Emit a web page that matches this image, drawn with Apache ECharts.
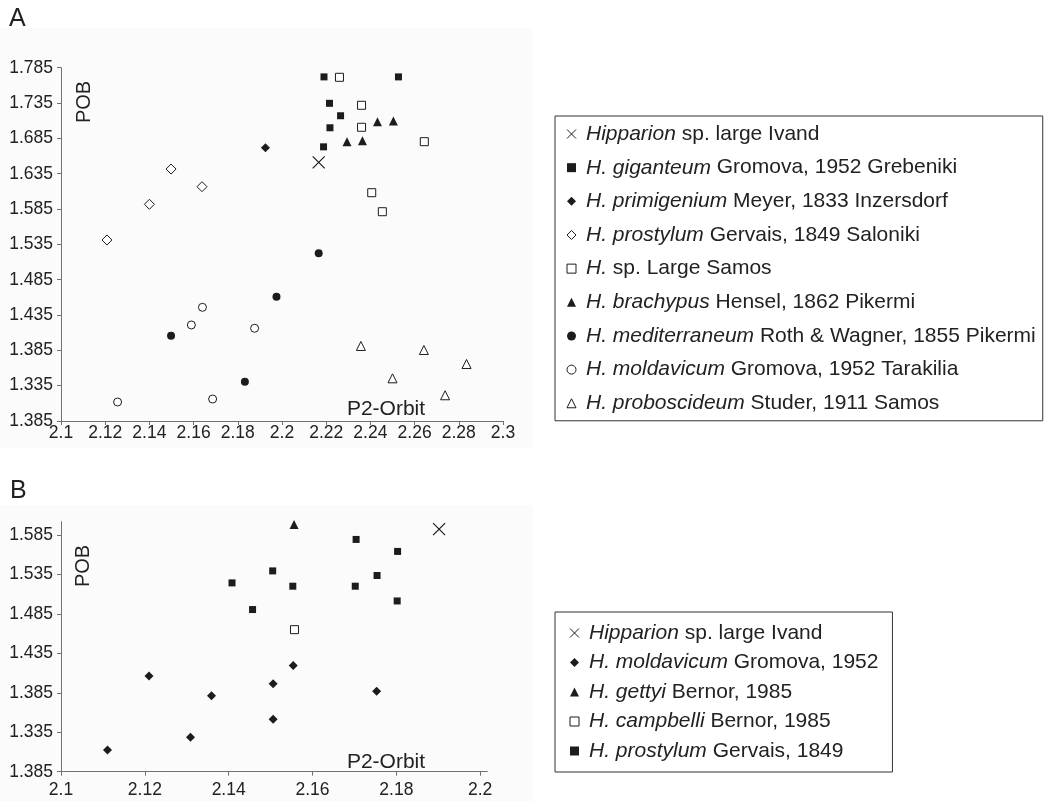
<!DOCTYPE html>
<html>
<head>
<meta charset="utf-8">
<title>P2-Orbit vs POB</title>
<script src="https://cdn.jsdelivr.net/npm/echarts@6/dist/echarts.min.js"></script>
<style>
    html, body { margin: 0; padding: 0; background: #fff; }
    #chart { width: 1051px; height: 801px; }
</style>
</head>
<body>
<div id="chart"></div>
<script>
// ---- axis ticks / labels (the printed bottom label really reads 1.385) ----
const xTicksA = [2.1, 2.12, 2.14, 2.16, 2.18, 2.2, 2.22, 2.24, 2.26, 2.28, 2.3];
const xLabelsA = ['2.1', '2.12', '2.14', '2.16', '2.18', '2.2', '2.22', '2.24', '2.26', '2.28', '2.3'];
const yTicksA = [1.285, 1.335, 1.385, 1.435, 1.485, 1.535, 1.585, 1.635, 1.685, 1.735, 1.785];
const yLabelsA = ['1.385', '1.335', '1.385', '1.435', '1.485', '1.535', '1.585', '1.635', '1.685', '1.735', '1.785'];

const xTicksB = [2.1, 2.12, 2.14, 2.16, 2.18, 2.2];
const xLabelsB = ['2.1', '2.12', '2.14', '2.16', '2.18', '2.2'];
const yTicksB = [1.285, 1.335, 1.385, 1.435, 1.485, 1.535, 1.585];
const yLabelsB = ['1.385', '1.335', '1.385', '1.435', '1.485', '1.535', '1.585'];

// ---- panel A: [P2-Orbit, POB] ----
const ivandA = [[2.2166, 1.651]];
const giganteum = [[2.219, 1.772], [2.2527, 1.772], [2.2215, 1.7346], [2.2265, 1.717], [2.2217, 1.700], [2.2188, 1.673]];
const primigenium = [[2.1925, 1.6718]];
const prostylumSaloniki = [[2.1498, 1.6416], [2.1638, 1.6166], [2.14, 1.5917], [2.1208, 1.5412]];
const largeSamos = [[2.226, 1.7714], [2.236, 1.7318], [2.236, 1.7007], [2.2644, 1.6803], [2.2406, 1.6081], [2.2454, 1.5812]];
const brachypus = [[2.2432, 1.7086], [2.2504, 1.7096], [2.2294, 1.6803], [2.2364, 1.6817]];
const mediterraneum = [[2.2166, 1.5223], [2.1975, 1.4609], [2.1498, 1.4057], [2.1832, 1.3406]];
const moldavicumTarakilia = [[2.164, 1.4459], [2.159, 1.4209], [2.1876, 1.4162], [2.1256, 1.3119], [2.1686, 1.3161]];
const proboscideum = [[2.2357, 1.3912], [2.2642, 1.3855], [2.2835, 1.3657], [2.25, 1.3454], [2.2738, 1.3214]];

// ---- panel B ----
const ivandB = [[2.1902, 1.5926]];
const moldavicumB = [[2.1554, 1.4198], [2.121, 1.4062], [2.1506, 1.3965], [2.1753, 1.3871], [2.1359, 1.3812], [2.1506, 1.3515], [2.1309, 1.3286], [2.1111, 1.3126]];
const gettyi = [[2.1556, 1.5986]];
const campbelli = [[2.1557, 1.4651]];
const prostylumB = [[2.1704, 1.5795], [2.1803, 1.5643], [2.1505, 1.5396], [2.1754, 1.5338], [2.1408, 1.5244], [2.1553, 1.5202], [2.1702, 1.5202], [2.1457, 1.4906], [2.1802, 1.5015]];

// legend names: [italic part, upright part]
const namesA = [
    ['Hipparion', ' sp. large Ivand'],
    ['H. giganteum', ' Gromova, 1952 Grebeniki'],
    ['H. primigenium', ' Meyer, 1833 Inzersdorf'],
    ['H. prostylum', ' Gervais, 1849 Saloniki'],
    ['H.', ' sp. Large Samos'],
    ['H. brachypus', ' Hensel, 1862 Pikermi'],
    ['H. mediterraneum', ' Roth & Wagner, 1855 Pikermi'],
    ['H. moldavicum', ' Gromova, 1952 Tarakilia'],
    ['H. proboscideum', ' Studer, 1911 Samos']
];
const namesB = [
    ['Hipparion', ' sp. large Ivand'],
    ['H. moldavicum', ' Gromova, 1952'],
    ['H. gettyi', ' Bernor, 1985'],
    ['H. campbelli', ' Bernor, 1985'],
    ['H. prostylum', ' Gervais, 1849']
];
const dataA = [ivandA, giganteum, primigenium, prostylumSaloniki, largeSamos, brachypus, mediterraneum, moldavicumTarakilia, proboscideum];
const kindsA = ['cross', 'square', 'diamond', 'diamondOpen', 'squareOpen', 'triangle', 'circle', 'circleOpen', 'triangleOpen'];
const dataB = [ivandB, moldavicumB, gettyi, campbelli, prostylumB];
const kindsB = ['cross', 'diamond', 'triangle', 'squareOpen', 'square'];

const ink = '#1c1c1c';
const font = 'Liberation Sans, Arial, Helvetica, sans-serif';

const markers = {
    cross: { symbol: 'path://M0,0L10,10M10,0L0,10', size: 12, fill: 'none', border: 1.2 },
    square: { symbol: 'rect', size: 7, fill: ink, border: 0 },
    squareOpen: { symbol: 'rect', size: 8, fill: '#fff', border: 1 },
    diamond: { symbol: 'diamond', size: 9, fill: ink, border: 0 },
    diamondOpen: { symbol: 'diamond', size: 10, fill: '#fff', border: 1 },
    triangle: { symbol: 'triangle', size: 9, fill: ink, border: 0 },
    triangleOpen: { symbol: 'triangle', size: 9, fill: '#fff', border: 1 },
    circle: { symbol: 'circle', size: 8, fill: ink, border: 0 },
    circleOpen: { symbol: 'circle', size: 8, fill: '#fff', border: 1 }
};

function fullName(n) { return n[0] + n[1]; }

function makeSeries(n, data, kind, idx) {
    const m = markers[kind];
    return {
        name: fullName(n),
        type: 'scatter',
        xAxisIndex: idx,
        yAxisIndex: idx,
        data: data,
        symbol: m.symbol,
        symbolSize: m.size,
        itemStyle: { color: m.fill, borderColor: ink, borderWidth: m.border, opacity: 1 },
        emphasis: { disabled: true }
    };
}

function labelFor(v, ticks, labels) {
    for (let i = 0; i < ticks.length; i++) {
        if (Math.abs(v - ticks[i]) < 1e-6) return labels[i];
    }
    return '';
}

function valueAxis(idx, min, max, ticks, labels, margin) {
    return {
        type: 'value',
        gridIndex: idx,
        min: min,
        max: max,
        axisLine: { show: true, onZero: false, lineStyle: { color: '#707070', width: 1 } },
        axisTick: { show: true, length: 4, customValues: ticks, lineStyle: { color: '#707070' } },
        axisLabel: {
            customValues: ticks,
            margin: margin,
            fontSize: 17.5,
            fontFamily: font,
            color: '#222',
            formatter: v => labelFor(v, ticks, labels)
        },
        splitLine: { show: false }
    };
}

function legendFor(names, kinds, top, padding, gap) {
    return {
        orient: 'vertical',
        left: 555,
        top: top,
        padding: padding,
        itemGap: gap,
        itemWidth: 9,
        itemHeight: 9,
        selectedMode: false,
        borderColor: '#333',
        borderWidth: 1,
        backgroundColor: '#fff',
        data: names.map((n, i) => ({
            name: fullName(n),
            itemStyle: { borderWidth: markers[kinds[i]].border ? 1 : 0 }
        })),
        formatter: name => {
            const n = names.find(x => fullName(x) === name);
            return '{i|' + n[0] + '}{n|' + n[1] + '}';
        },
        textStyle: {
            fontSize: 21,
            fontFamily: font,
            color: '#222',
            rich: {
                i: { fontStyle: 'italic', fontSize: 21, fontFamily: font, color: '#222', lineHeight: 21, padding: [0, 0, 0, 5] },
                n: { fontSize: 21, fontFamily: font, color: '#222', lineHeight: 21 }
            }
        }
    };
}

const chart = echarts.init(document.getElementById('chart'));

const series = [];
namesA.forEach((n, i) => series.push(makeSeries(n, dataA[i], kindsA[i], 0)));
namesB.forEach((n, i) => series.push(makeSeries(n, dataB[i], kindsB[i], 1)));

const option = {
    backgroundColor: '#fff',
    animation: false,
    grid: [
        { left: 61, top: 67.7, width: 442, height: 353.3, containLabel: false, outerBoundsMode: 'none' },
        { left: 61, top: 521.7, width: 426.3, height: 250, containLabel: false, outerBoundsMode: 'none' }
    ],
    xAxis: [
        valueAxis(0, 2.1, 2.3, xTicksA, xLabelsA, 3),
        valueAxis(1, 2.1, 2.2017, xTicksB, xLabelsB, 9)
    ],
    yAxis: [
        valueAxis(0, 1.285, 1.785, yTicksA, yLabelsA, 8),
        valueAxis(1, 1.285, 1.602, yTicksB, yLabelsB, 8)
    ],
    legend: [
        legendFor(namesA, kindsA, 116, [7.5, 7, 7, 9.5], 12.66),
        legendFor(namesB, kindsB, 612, [10.5, 14, 10.5, 12.5], 8.5)
    ],
    graphic: [
        { type: 'rect', z: -100, shape: { x: 0, y: 28, width: 533, height: 420 }, style: { fill: '#fbfbfb' }, silent: true },
        { type: 'rect', z: -100, shape: { x: 0, y: 505, width: 533, height: 296 }, style: { fill: '#fbfbfb' }, silent: true },
        { type: 'text', x: 9, y: 19, style: { text: 'A', fontSize: 25, fontFamily: font, fill: '#222', verticalAlign: 'middle' } },
        { type: 'text', x: 10, y: 491, style: { text: 'B', fontSize: 25, fontFamily: font, fill: '#222', verticalAlign: 'middle' } },
        { type: 'text', x: 84, y: 102, rotation: Math.PI / 2, style: { text: 'POB', fontSize: 20, fontFamily: font, fill: '#222', align: 'center', verticalAlign: 'middle' } },
        { type: 'text', x: 83, y: 566, rotation: Math.PI / 2, style: { text: 'POB', fontSize: 20, fontFamily: font, fill: '#222', align: 'center', verticalAlign: 'middle' } },
        { type: 'text', x: 386, y: 409, style: { text: 'P2-Orbit', fontSize: 21, fontFamily: font, fill: '#222', align: 'center', verticalAlign: 'middle' } },
        { type: 'text', x: 386, y: 762, style: { text: 'P2-Orbit', fontSize: 21, fontFamily: font, fill: '#222', align: 'center', verticalAlign: 'middle' } }
    ],
    series: series
};

chart.setOption(option);
</script>
</body>
</html>
